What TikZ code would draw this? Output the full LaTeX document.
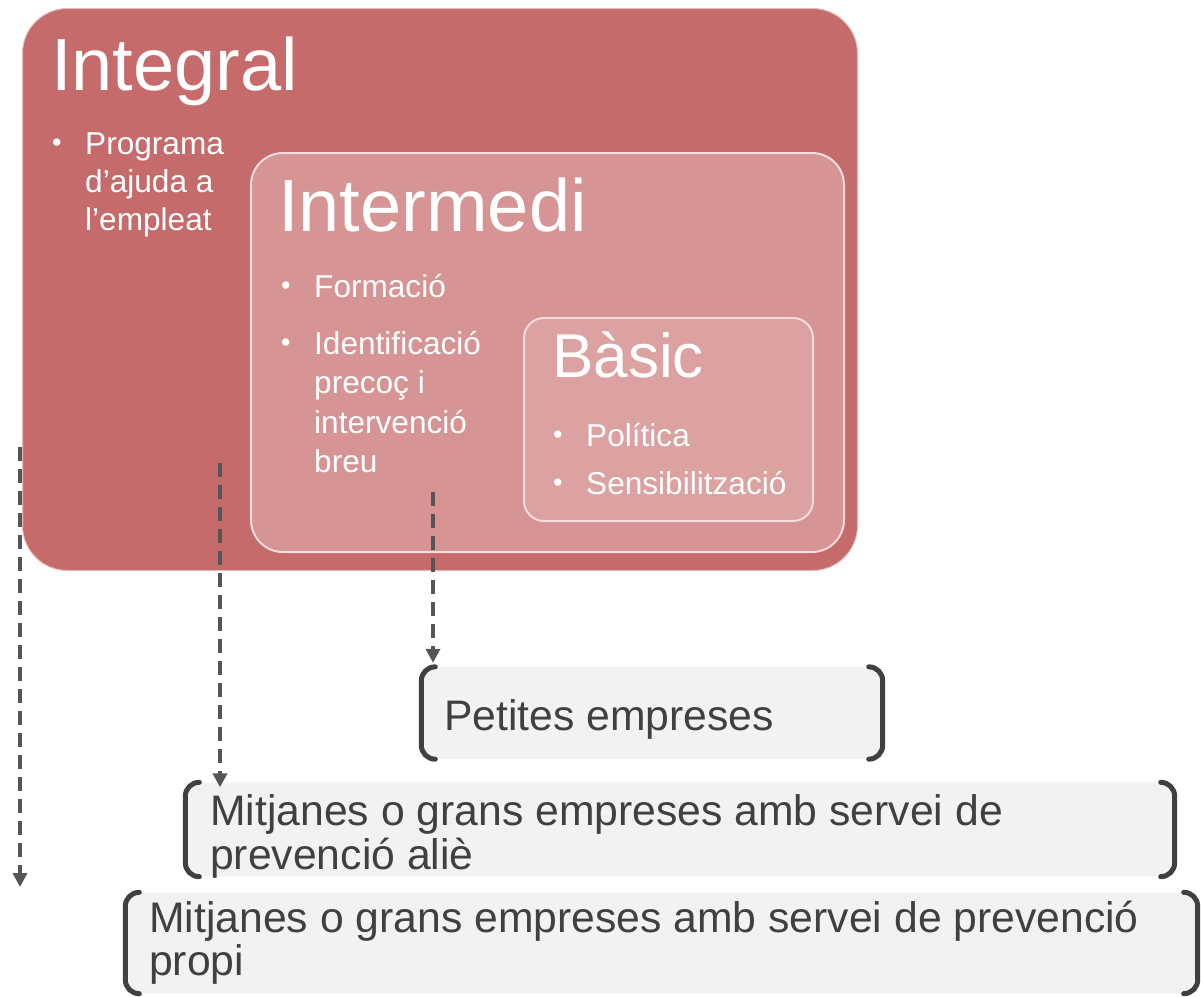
\documentclass[tikz,border=0pt]{standalone}
\usepackage{fontspec}
\setmainfont{Liberation Sans}
\usetikzlibrary{arrows.meta}
\definecolor{outerred}{RGB}{197,107,107}
\definecolor{midred}{RGB}{214,148,148}
\definecolor{basred}{RGB}{220,161,161}
\definecolor{edgepink}{RGB}{244,220,220}
\definecolor{boxgray}{RGB}{242,242,242}
\definecolor{brkgray}{RGB}{64,64,64}
\definecolor{txtgray}{RGB}{64,64,64}
\definecolor{arrgray}{RGB}{85,85,85}
\newcommand{\bul}{\makebox[33pt][l]{\raisebox{3pt}{\fontsize{27}{27}\selectfont •}}}
\newcommand{\bsp}{\hspace*{33pt}}
\tikzset{
  panel/.style={anchor=north west, inner sep=0pt, rounded corners=#1},
  title/.style={anchor=base west, inner sep=0pt, text=white, font=\fontsize{74}{74}\selectfont},
  blist/.style={anchor=base west, inner sep=0pt, text=white, font=\fontsize{31.6}{#1}\selectfont},
  graybox/.style={fill=boxgray, inner sep=0pt, rounded corners=14pt},
  brk/.style={draw=brkgray, line width=5pt, line cap=round, rounded corners=14pt},
  btext/.style={anchor=base west, inner sep=0pt, text=txtgray, font=\fontsize{42.7}{42}\selectfont},
  dar/.style={draw=arrgray, line width=3.5pt, dash pattern=on 14pt off 8pt, -{Triangle[length=14pt,width=14pt]}}
}
\begin{document}
\begin{tikzpicture}[x=1pt,y=-1pt]
\useasboundingbox (0,0) rectangle (1201,996);
% nested panels
\node[panel=45pt, fill=outerred, draw=edgepink!70!outerred, line width=1pt,
      minimum width=835pt, minimum height=562pt] (integral) at (22,8) {};
\node[panel=32pt, fill=midred, draw=edgepink, line width=2pt,
      minimum width=593pt, minimum height=399pt] (intermedi) at (250,152) {};
\node[panel=20pt, fill=basred, draw=edgepink, line width=2pt,
      minimum width=289pt, minimum height=203pt] (basic) at (523,317) {};
% titles
\node[title] (tInt) at (51,90) {Integral};
\node[title] (tMid) at (278,231) {Intermedi};
\node[title, font=\fontsize{62}{62}\selectfont] (tBas) at (552,377) {Bàsic};
% bullet lists
\node[blist=38pt] (lInt) at (52,154) {\begin{tabular}[t]{@{}l@{}}\bul Programa\\ \bsp d’ajuda a\\ \bsp l’empleat\end{tabular}};
\node[blist=39.5pt] (lMid1) at (281,297) {\bul Formació};
\node[blist=39.5pt] (lMid2) at (281,354) {\begin{tabular}[t]{@{}l@{}}\bul Identificació\\ \bsp precoç i\\ \bsp intervenció\\ \bsp breu\end{tabular}};
\node[blist=39.5pt] (lBas1) at (553,446) {\bul Política};
\node[blist=39.5pt] (lBas2) at (553,494) {\bul Sensibilització};
% bracket boxes
\node[graybox, minimum width=461pt, minimum height=92pt] (petites) at (652,713) {};
\node[graybox, minimum width=989pt, minimum height=94pt] (alie) at (680,829.5) {};
\node[graybox, minimum width=1072pt, minimum height=101pt] (propi) at (661.5,943) {};
\foreach \b in {petites,alie,propi}{
  \draw[brk] ([xshift=14pt]\b.north west) -- (\b.north west) -- (\b.south west) -- ([xshift=14pt]\b.south west);
  \draw[brk] ([xshift=-14pt]\b.north east) -- (\b.north east) -- (\b.south east) -- ([xshift=-14pt]\b.south east);
}
\node[btext] (tPet) at (444,730) {Petites empreses};
\node[btext] (tAlie) at (210,825) {\begin{tabular}[t]{@{}l@{}}Mitjanes o grans empreses amb servei de\\ prevenció aliè\end{tabular}};
\node[btext] (tPropi) at (149,932) {\begin{tabular}[t]{@{}l@{}}Mitjanes o grans empreses amb servei de prevenció\\ propi\end{tabular}};
% dashed connectors
\coordinate (s1) at (20,447);
\coordinate (e1) at (20,887);
\coordinate (s2) at (220,463);
\coordinate (s3) at (433,492);
\draw[dar] (s1) -- (e1);
\draw[dar] (s2) -- ([yshift=-5pt]s2 |- alie.north);
\draw[dar] (s3) -- ([yshift=4pt]s3 |- petites.north);
\end{tikzpicture}
\end{document}
